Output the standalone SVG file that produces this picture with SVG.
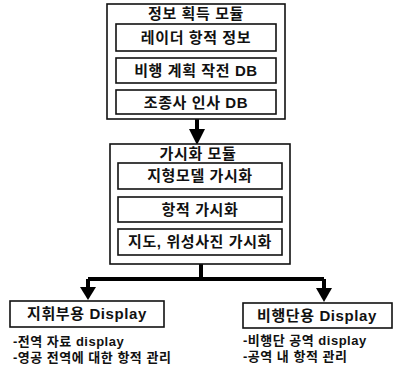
<svg xmlns="http://www.w3.org/2000/svg" width="395" height="374" viewBox="0 0 395 374">
<defs>
<style>
.box{fill:#fff;stroke:#111;stroke-width:1.6}
.t{font-family:"Liberation Sans","Noto Sans CJK KR",sans-serif;font-size:15px;font-weight:bold;fill:#111;text-anchor:middle;letter-spacing:0.6px}
.s{font-family:"Liberation Sans","Noto Sans CJK KR",sans-serif;font-size:13px;font-weight:bold;fill:#111;letter-spacing:0.5px}
.w{fill:none;stroke:#000;stroke-width:4}
</style>
</defs>
<rect width="395" height="374" fill="#fff"/>
<g id="connectors">
<path class="w" d="M197,119 V129"/>
<path d="M189,129 H205 L197,145 Z" fill="#000"/>
<path class="w" d="M201,264 V279 M88,279 H324"/>
<path class="w" d="M88,279 V288"/>
<path d="M80,287 H96 L88,300 Z" fill="#000"/>
<path class="w" d="M324,279 V289"/>
<path d="M316,288 H332 L324,302 Z" fill="#000"/>
</g>
<g id="acquisition">
<rect class="box" x="107" y="4" width="178" height="115"/>
<text class="t" x="196" y="19">정보 획득 모듈</text>
</g>
<g id="radar">
<rect class="box" x="116" y="24" width="160" height="27"/>
<text class="t" x="196" y="43">레이더 항적 정보</text>
</g>
<g id="flightplan">
<rect class="box" x="116" y="58" width="160" height="25"/>
<text class="t" x="196" y="76">비행 계획 작전 DB</text>
</g>
<g id="pilot">
<rect class="box" x="116" y="90" width="160" height="24"/>
<text class="t" x="196" y="108">조종사 인사 DB</text>
</g>
<g id="visual">
<rect class="box" x="110" y="144" width="180" height="120"/>
<text class="t" x="198" y="159">가시화 모듈</text>
</g>
<g id="terrain">
<rect class="box" x="118" y="163" width="164" height="26"/>
<text class="t" x="200" y="181">지형모델 가시화</text>
</g>
<g id="track">
<rect class="box" x="118" y="197" width="164" height="25"/>
<text class="t" x="200" y="215">항적 가시화</text>
</g>
<g id="map">
<rect class="box" x="118" y="229" width="164" height="26"/>
<text class="t" x="200" y="247">지도, 위성사진 가시화</text>
</g>
<g id="command">
<rect class="box" x="10" y="301" width="154" height="26"/>
<text class="t" x="87" y="319">지휘부용 Display</text>
<text class="s" x="13" y="346">-전역 자료 display</text>
<text class="s" x="13" y="362">-영공 전역에 대한 항적 관리</text>
</g>
<g id="wing">
<rect class="box" x="243" y="303" width="149" height="25"/>
<text class="t" x="317" y="321">비행단용 Display</text>
<text class="s" x="243" y="345">-비행단 공역 display</text>
<text class="s" x="243" y="361">-공역 내 항적 관리</text>
</g>
</svg>
